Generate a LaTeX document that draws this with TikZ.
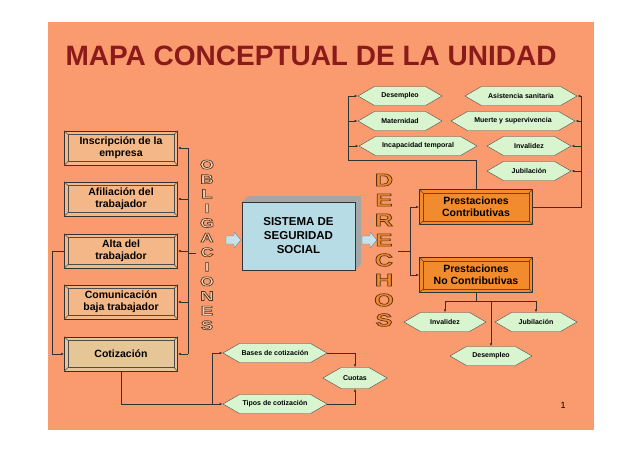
\documentclass[tikz,border=0pt]{standalone}
\usepackage{fontspec}
\setmainfont{Liberation Sans}
\usetikzlibrary{shapes.symbols,arrows.meta}
\definecolor{bg}{HTML}{F99B6E}
\definecolor{tit}{HTML}{8B1A1A}
\definecolor{tan}{HTML}{F4B888}
\definecolor{cot}{HTML}{E6C596}
\definecolor{blu}{HTML}{B8DCE6}
\definecolor{org}{HTML}{F28A2E}
\definecolor{hex}{HTML}{D8F5D0}
\newcommand{\outl}[1]{\special{pdf:literal direct 2 Tr 0.6 w 0.35 0.2 0.1 RG}#1\special{pdf:literal direct 0 Tr}}
\tikzset{
 bev/.style={draw=black!80,line width=0.8pt,minimum width=113pt,minimum height=34pt,align=center,font=\bfseries\fontsize{10.5}{12}\selectfont,inner sep=1pt},
 hx/.style={signal,signal to=west and east,signal pointer angle=60,draw=black!70,fill=hex,minimum height=19pt,inner xsep=2pt,font=\bfseries\fontsize{7}{8}\selectfont},
 ln/.style={draw=black!80,line width=0.6pt},
 ar/.style={ln,-{Latex[length=3pt,width=2.5pt]}},
 ltr/.style={font=\bfseries\fontsize{13}{13}\selectfont,inner sep=0pt,xscale=1.4}
}
\newcommand{\bevin}[1]{\draw[black!70] ([shift={(4pt,-4pt)}]#1.north west) rectangle ([shift={(-4pt,4pt)}]#1.south east);
 \draw[black!70] (#1.north west)--++(4pt,-4pt) (#1.north east)--++(-4pt,-4pt) (#1.south west)--++(4pt,4pt) (#1.south east)--++(-4pt,4pt);}
\begin{document}
\begin{tikzpicture}[x=1pt,y=-1pt]
\useasboundingbox (0,0) rectangle (638,451);
\fill[white] (0,0) rectangle (638,451);
\fill[bg] (48,22) rectangle (594,430);
\node[anchor=west,text=tit,font=\bfseries\fontsize{28}{28}\selectfont] (title) at (62,56) {MAPA CONCEPTUAL DE LA UNIDAD};
% left boxes
\node[bev,fill=tan] (ins) at (121,148) {Inscripción de la\\empresa}; \bevin{ins}
\node[bev,fill=tan] (afi) at (121,199) {Afiliación del\\trabajador}; \bevin{afi}
\node[bev,fill=tan] (alt) at (121,251) {Alta del\\trabajador}; \bevin{alt}
\node[bev,fill=tan] (com) at (121,302) {Comunicación\\baja trabajador}; \bevin{com}
\node[bev,fill=cot] (cot) at (121,354) {Cotización}; \bevin{cot}
% obligaciones
\foreach \l [count=\i] in {O,B,L,I,G,A,C,I,O,N,E,S}
  \node[ltr,text=tan!50!white] (ob\i) at (207,150+\i*14.6) {\outl{\l}};
\coordinate (obj) at (188,253);
\draw[ln] (196,253) -- (obj);
\draw[ln] (188,148) -- (188,354);
\foreach \n in {ins,afi,alt,com,cot} \draw[ar] (188,0 |- \n.east) -- (\n.east);
\draw[ar] (alt.west) -- (52,251) |- (cot.west);
% center
\fill[gray!70] (242,202) -- (248,196) -- (361,196) -- (361,264) -- (355,270) -- cycle;
\node[draw=black!80,fill=blu,minimum width=113pt,minimum height=68pt,align=center,font=\bfseries\fontsize{11.5}{14}\selectfont] (sis) at (298.5,236) {SISTEMA DE\\SEGURIDAD\\SOCIAL};
\draw[fill=blu!80,draw=blu!60!black] (226,236)--(234,236)--(234,232)--(241,240)--(234,248)--(234,244)--(226,244)--cycle;
\draw[fill=blu!80,draw=blu!60!black] (362,236)--(370,236)--(370,232)--(377,240)--(370,248)--(370,244)--(362,244)--cycle;
% derechos
\foreach \l [count=\i] in {D,E,R,E,C,H,O,S}
  \node[ltr,text=org,font=\bfseries\fontsize{18}{18}\selectfont] (de\i) at (384,160+\i*20) {\outl{\l}};
% prestaciones
\node[bev,fill=org,minimum height=35pt] (pc) at (476,207) {Prestaciones\\Contributivas}; \bevin{pc}
\node[bev,fill=org,minimum height=35pt] (pnc) at (476,275) {Prestaciones\\No Contributivas}; \bevin{pnc}
\draw[ln] (398,251) -- (410,251);
\draw[ar] (410,207) |- (pc.west) ; \draw[ln] (410,207)--(410,275);
\draw[ar] (410,275) -- (pnc.west);
% top hexagons
\node[hx,minimum width=84pt] (des) at (400,96) {Desempleo};
\node[hx,minimum width=84pt] (mat) at (400,121) {Maternidad};
\node[hx,minimum width=118pt] (inc) at (418,146) {Incapacidad temporal};
\node[hx,minimum width=112pt] (asi) at (521,96) {Asistencia sanitaria};
\node[hx,minimum width=124pt] (mue) at (513,121) {Muerte y supervivencia};
\node[hx,minimum width=84pt] (inv) at (529,146) {Invalidez};
\node[hx,minimum width=84pt] (jub) at (529,171) {Jubilación};
\draw[ln] (pc.north) -- (476,160) -- (348,160) -- (348,96);
\foreach \n in {des,mat,inc} \draw[ar] (348,0 |- \n.west) -- (\n.west);
\draw[ln] (pc.east) -- (581,207) -- (581,96);
\foreach \n in {asi,mue,inv,jub} \draw[ar] (581,0 |- \n.east) -- (\n.east);
% bottom hexagons
\node[hx,minimum width=82pt] (inv2) at (445,322) {Invalidez};
\node[hx,minimum width=82pt] (jub2) at (536,322) {Jubilación};
\node[hx,minimum width=82pt] (des2) at (491,356) {Desempleo};
\draw[ln] (pnc.south) -- (476,301);
\draw[ln] (445,301) -- (536,301);
\draw[ar] (445,301) -- (inv2.north);
\draw[ar] (536,301) -- (jub2.north);
\draw[ar] (491,301) -- (des2.north);
% cotizacion
\node[hx,minimum width=104pt] (bas) at (275,353) {Bases de cotización};
\node[hx,minimum width=104pt] (tip) at (275,404) {Tipos de cotización};
\node[hx,minimum width=48pt,minimum height=21pt] (cuo) at (355,378) {Cuotas};
\draw[ln] (cot.south) |- (212,404);
\draw[ln] (212,353) -- (212,404);
\draw[ar] (212,353) -- (bas.west);
\draw[ar] (212,404) -- (tip.west);
\draw[ar] (bas.east) -| (cuo.north);
\draw[ar] (tip.east) -| (cuo.south);
\node[font=\fontsize{9}{9}\selectfont] (pg) at (563,405) {1};
\end{tikzpicture}
\end{document}
